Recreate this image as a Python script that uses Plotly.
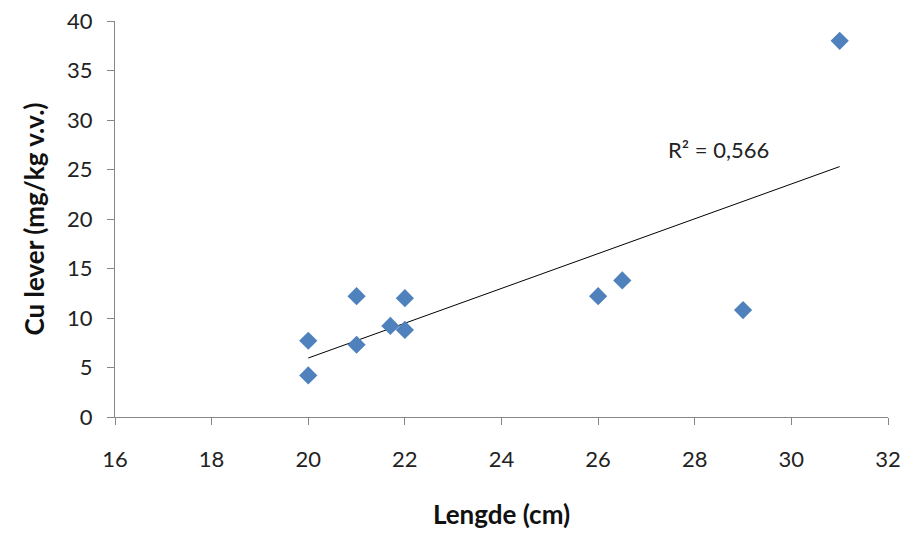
import numpy as np
import plotly.graph_objects as go

lengde = [20, 20, 21, 21, 21.7, 22, 22, 26, 26.5, 29, 31]
cu_lever = [7.7, 4.2, 12.2, 7.3, 9.2, 12.0, 8.8, 12.2, 13.8, 10.8, 38.0]
x_ticks = [16, 18, 20, 22, 24, 26, 28, 30, 32]
y_ticks = [0, 5, 10, 15, 20, 25, 30, 35, 40]

x = np.array(lengde)
y = np.array(cu_lever)
slope, intercept = np.polyfit(x, y, 1)
fit = slope * x + intercept
r2 = 1 - np.sum((y - fit) ** 2) / np.sum((y - y.mean()) ** 2)
xl = np.array([x.min(), x.max()])
yl = slope * xl + intercept

font = "Lato, 'Open Sans', sans-serif"
fig = go.Figure()
fig.add_trace(go.Scatter(x=xl, y=yl, mode="lines",
                         line=dict(color="black", width=1), showlegend=False, hoverinfo="skip"))
fig.add_trace(go.Scatter(x=lengde, y=cu_lever, mode="markers",
                         marker=dict(symbol="diamond", size=14, color="#4F81BD"),
                         showlegend=False))
fig.add_annotation(x=28.5, y=27.0, text="R² = " + f"{r2:.3f}".replace(".", ","),
                   showarrow=False, font=dict(family=font, size=22, color="#222"))
axis_common = dict(showgrid=False, zeroline=False, showline=True, linecolor="#868686",
                   linewidth=1, ticks="outside", ticklen=7, tickcolor="#868686",
                   tickfont=dict(family=font, size=22, color="#222"))
fig.update_xaxes(range=[16, 32], tickvals=x_ticks, ticklabelstandoff=16,
                 title=dict(text="<b>Lengde (cm)</b>", font=dict(family=font, size=26, color="#111"), standoff=34),
                 **axis_common)
fig.update_yaxes(range=[0, 40], tickvals=y_ticks, ticklabelstandoff=10,
                 title=dict(text="<b>Cu lever (mg/kg v.v.)</b>", font=dict(family=font, size=26, color="#111"), standoff=14),
                 **axis_common)
fig.update_layout(width=904, height=535, plot_bgcolor="white", paper_bgcolor="white",
                  margin=dict(l=115, r=16, t=21, b=118, autoexpand=False))
fig.write_html("out.html", config={"displayModeBar": False},
               post_script="document.body.style.margin='0';")
